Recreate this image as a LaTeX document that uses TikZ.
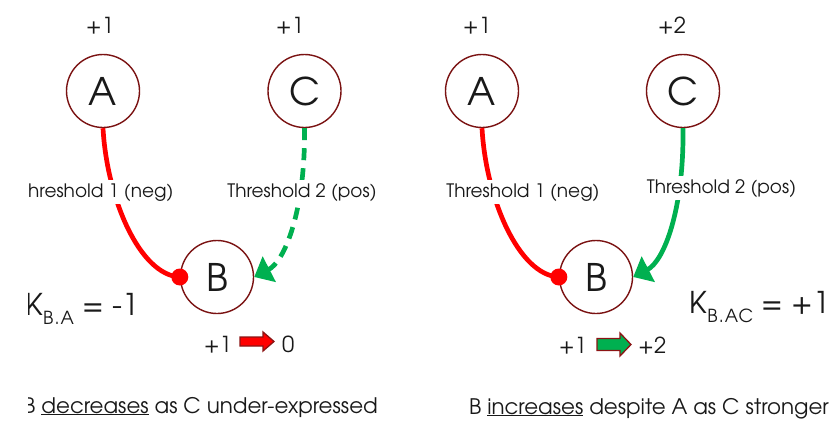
\documentclass[tikz,border=0pt]{standalone}
\usepackage{fontspec}
\setmainfont{texgyreadventor}[Extension=.otf,UprightFont=*-regular,BoldFont=*-bold]
\usetikzlibrary{arrows.meta}
\definecolor{ring}{RGB}{122,18,18}
\definecolor{inhib}{RGB}{255,0,0}
\definecolor{act}{RGB}{0,176,80}
\definecolor{ink}{RGB}{25,25,25}
\definecolor{arrowedge}{RGB}{140,20,20}
\begin{document}
\begin{tikzpicture}[x=1pt,y=-1pt,
  gene/.style={circle,draw=ring,line width=1.4pt,minimum size=73pt,inner sep=0pt,
    font=\fontsize{38}{38}\selectfont,text=ink},
  level/.style={font=\fontsize{22}{24}\selectfont,text=ink,inner sep=0pt},
  thr/.style={font=\fontsize{18.5}{20}\selectfont,text=ink,fill=white,inner sep=3pt},
  kval/.style={font=\fontsize{30}{34}\selectfont,text=ink,inner sep=0pt},
  caption/.style={font=\fontsize{21.4}{24}\selectfont,text=ink,inner sep=0pt},
  negline/.style={draw=inhib,line width=4.7pt},
  actline/.style={draw=act,line width=4.7pt,-{Triangle[length=17pt,width=28pt]}},
  actdash/.style={actline,dash pattern=on 12pt off 8pt},
  blockred/.style={fill=inhib,draw=arrowedge,line width=1.3pt,line join=miter},
  blockgreen/.style={fill=act,draw=arrowedge,line width=1.3pt,line join=miter},
]
\useasboundingbox (0,0) rectangle (832,426);

\newcommand{\subtxt}[1]{\raisebox{-0.3em}{\fontsize{18}{18}\selectfont\addfontfeature{LetterSpace=6}#1}}

% ---------- left case: B decreases ----------
\node[gene] (lA) at (103,91) {A};
\node[gene] (lC) at (304.5,91) {C};
\node[gene] (lB) at (217,277) {B};

\node[level,anchor=base] (lAv) at (100,33) {+1};
\node[level,anchor=base] (lCv) at (290,33) {+1};

\draw[negline] (lA.south) .. controls +(4,71) and +(-40,-2) .. (lB.west);
\fill[inhib] (lB.west) circle (8.5pt);
\draw[actdash] (lC.south) .. controls +(1,81) and +(31,-16) .. (lB.east);

\node[thr,anchor=base] (lT2) at (302,197) {Threshold 2 (pos)};

\begin{scope}
  \clip (28,0) rectangle (420,426);
  \node[thr,anchor=base west] (lT1) at (25,197) {hreshold 1 (neg)};
  \node[kval,anchor=base east] (lK) at (139,315) {K\subtxt{B.A} = -1};
  \node[caption,anchor=base east] (lcap) at (378,413)
    {B \underline{decreases} as C under-expressed};
\end{scope}

\node[level,anchor=base east] (lfrom) at (232,352) {+1};
\node[level,anchor=base west] (lto) at (282,352) {0};
\draw[blockred] (240,337) -- ++(23,0) -- ++(0,-5) -- ++(11,9.5) -- ++(-11,9.5)
  -- ++(0,-5) -- ++(-23,0) -- cycle;

% ---------- right case: B increases ----------
\node[gene] (rA) at (482,91) {A};
\node[gene] (rC) at (683,91) {C};
\node[gene] (rB) at (596,277) {B};

\node[level,anchor=base] (rAv) at (477,33) {+1};
\node[level,anchor=base] (rCv) at (672,33) {+2};

\draw[negline] (rA.south) .. controls +(4,71) and +(-40,-2) .. (rB.west);
\fill[inhib] (rB.west) circle (8.5pt);
\draw[actline] (rC.south) .. controls +(1,81) and +(31,-16) .. (rB.east);

\node[thr,anchor=base] (rT1) at (523,197) {Threshold 1 (neg)};
\node[thr,anchor=base] (rT2) at (721.5,193) {Threshold 2 (pos)};

\node[kval,anchor=base east] (rK) at (830,313) {K\subtxt{B.AC} = +1};

\node[level,anchor=base east] (rfrom) at (587,353) {+1};
\node[level,anchor=base west] (rto) at (638,353) {+2};
\draw[blockgreen] (597,338.5) -- ++(23,0) -- ++(0,-5.5) -- ++(11,11.5) -- ++(-11,11.5)
  -- ++(0,-5.5) -- ++(-23,0) -- cycle;

\node[caption,anchor=base] (rcap) at (649,414)
  {B \underline{increases} despite A as C stronger};
\end{tikzpicture}
\end{document}
